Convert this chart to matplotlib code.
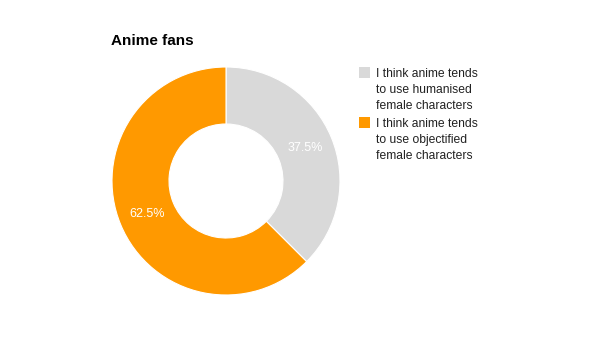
import matplotlib.pyplot as plt
from matplotlib.patches import Rectangle

labels = ['I think anime tends\nto use humanised\nfemale characters',
          'I think anime tends\nto use objectified\nfemale characters']
values = [37.5, 62.5]
colors_ = ['#d9d9d9', '#ff9900']
title = 'Anime fans'

plt.rcParams['font.family'] = ['Liberation Sans', 'DejaVu Sans']

W, H = 591, 363
fig = plt.figure(figsize=(W / 100, H / 100), dpi=100)

# pie axes: centre (226,181), outer radius 114 px
cx, cy, r = 226, 181, 114
ax = fig.add_axes([(cx - r) / W, (H - cy - r) / H, 2 * r / W, 2 * r / H])
wedges, texts, autotexts = ax.pie(values, colors=colors_, startangle=90, counterclock=False,
                                  radius=1.0, autopct='%.1f%%', pctdistance=0.75,
                                  wedgeprops=dict(width=0.5, edgecolor='white', linewidth=0.8))
for t in autotexts:
    t.set_color('white')
    t.set_fontsize(9)
ax.set_xlim(-1, 1)
ax.set_ylim(-1, 1)
ax.set_aspect('equal')
ax.axis('off')

fig.text(111 / W, 1 - 41 / H, title, fontsize=11, fontweight='bold', va='center', ha='left')

# legend
tops = [67, 117]
for top, lab, col in zip(tops, labels, colors_):
    fig.patches.append(Rectangle((359 / W, 1 - (top + 11) / H), 11 / W, 11 / H,
                                 transform=fig.transFigure, facecolor=col, edgecolor='none'))
    fig.text(376 / W, 1 - (top + 1) / H, lab, fontsize=8.7, color='#222222', va='top', ha='left',
             linespacing=1.42)

fig.savefig('out.png', dpi=100)
